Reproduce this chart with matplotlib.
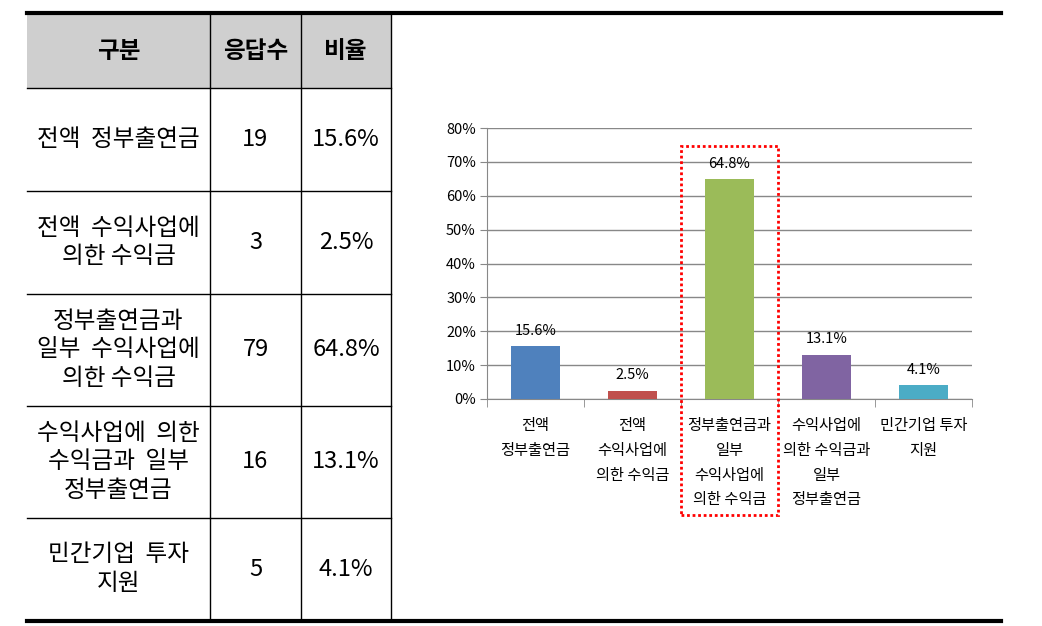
import matplotlib.pyplot as plt
from matplotlib.patches import Rectangle

plt.rcParams['font.family'] = ['Noto Sans CJK KR', 'DejaVu Sans']

# ================== DADOS ==================
header = ["구분", "응답수", "비율"]
row_labels = ["전액  정부출연금",
              "전액  수익사업에\n의한 수익금",
              "정부출연금과\n일부  수익사업에\n의한 수익금",
              "수익사업에  의한\n수익금과  일부\n정부출연금",
              "민간기업  투자\n지원"]
counts = [19, 3, 79, 16, 5]
ratios = [15.6, 2.5, 64.8, 13.1, 4.1]

chart_labels = ["전액\n정부출연금",
                "전액\n수익사업에\n의한 수익금",
                "정부출연금과\n일부\n수익사업에\n의한 수익금",
                "수익사업에\n의한 수익금과\n일부\n정부출연금",
                "민간기업 투자\n지원"]
colors = ["#4F81BD", "#C0504D", "#9BBB59", "#8064A2", "#4BACC6"]
highlight = 2

W, H = 1042, 626
fig = plt.figure(figsize=(W / 100, H / 100), dpi=100)

# ================== TABELA ==================
bg = fig.add_axes([0, 0, 1, 1])
bg.set_xlim(0, W)
bg.set_ylim(H, 0)
bg.axis("off")

col_x = [27, 210, 301, 391]
row_y = [14, 88, 191, 294, 406, 518, 620]

bg.add_patch(Rectangle((col_x[0], row_y[0]), col_x[-1] - col_x[0],
                       row_y[1] - row_y[0], facecolor="#cfcfcf", edgecolor="none"))
for y in row_y[1:-1]:
    bg.plot([col_x[0], col_x[-1]], [y, y], color="black", lw=1)
for x in col_x[1:]:
    bg.plot([x, x], [row_y[0], row_y[-1]], color="black", lw=1)
bg.plot([27, 1001], [12.5, 12.5], color="black", lw=3)
bg.plot([27, 1001], [621, 621], color="black", lw=3)

cx = [(col_x[i] + col_x[i + 1]) / 2 for i in range(3)]
hy = (row_y[0] + row_y[1]) / 2
for i, h in enumerate(header):
    bg.text(cx[i], hy, h, ha="center", va="center", fontsize=17, fontweight="bold")

for r in range(len(row_labels)):
    y = (row_y[r + 1] + row_y[r + 2]) / 2
    bg.text(cx[0], y, row_labels[r], ha="center", va="center", fontsize=17,
            linespacing=1.3)
    bg.text(cx[1], y, str(counts[r]), ha="center", va="center", fontsize=17)
    bg.text(cx[2], y, f"{ratios[r]}%", ha="center", va="center", fontsize=17)

# ================== GRÁFICO ==================
ax = fig.add_axes([487 / W, (H - 399) / H, (972 - 487) / W, (399 - 128) / H])
pos = list(range(len(ratios)))
bars = ax.bar(pos, ratios, width=0.5, color=colors, zorder=3)
for b, v in zip(bars, ratios):
    ax.annotate(f"{v}%", (b.get_x() + b.get_width() / 2, v), xytext=(0, 6),
                textcoords="offset points", ha="center", va="bottom", fontsize=10.5)

ax.set_xlim(-0.5, len(ratios) - 0.5)
ax.set_ylim(0, 80)
ax.set_yticks(range(0, 81, 10))
ax.set_yticklabels([f"{t}%" for t in range(0, 81, 10)], fontsize=10.5)
ax.yaxis.grid(True, color="#888888", lw=1)
ax.set_axisbelow(True)
ax.tick_params(axis="y", length=5, color="#888888", pad=3)

ax.set_xticks(pos)
ax.set_xticklabels(chart_labels, fontsize=11, linespacing=1.6, va="top")
ax.tick_params(axis="x", which="major", length=0, pad=13)
ax.set_xticks([p - 0.5 for p in pos] + [pos[-1] + 0.5], minor=True)
ax.tick_params(axis="x", which="minor", length=6, color="#888888")

for s in ["top", "right"]:
    ax.spines[s].set_visible(False)
ax.spines["left"].set_color("#888888")
ax.spines["bottom"].set_color("#888888")

# destaque pontilhado em volta da categoria principal
ax.add_patch(Rectangle((highlight - 0.5, -34.2), 1, 108.9, fill=False,
                       edgecolor="red", lw=2, linestyle=(0, (1, 1)),
                       clip_on=False, zorder=5))

plt.savefig("out.png", dpi=100)
